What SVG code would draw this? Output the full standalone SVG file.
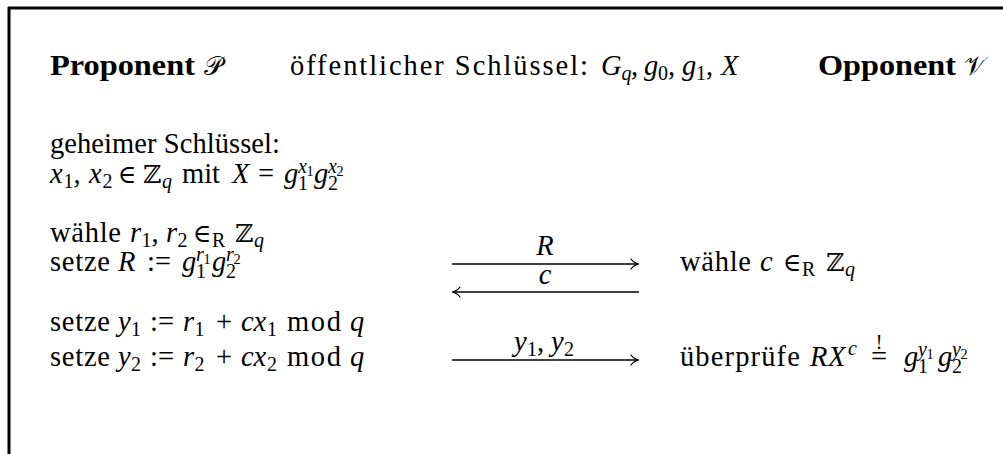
<svg xmlns="http://www.w3.org/2000/svg" width="1003" height="454" viewBox="0 0 1003 454">
<style>
text{font-family:"Liberation Serif","DejaVu Serif",serif;font-size:28.5px;fill:#000}
.b{font-weight:bold}
.i{font-style:italic}
.s{font-size:20px}
.ss{font-size:14.3px}
.m{text-anchor:middle}
.cal{font-family:"DejaVu Serif","DejaVu Sans",serif;font-style:normal;font-size:26px}
.sym{font-family:"DejaVu Serif",serif;font-size:25px}
.ln{stroke:#000;stroke-width:1.3;fill:none}
.hd{stroke:#000;stroke-width:1.2;fill:none;stroke-linecap:round}
</style>
<g id="frame">
<line x1="8" y1="8" x2="1003" y2="8" stroke="#000" stroke-width="3"/>
<line x1="9" y1="7" x2="9" y2="454" stroke="#000" stroke-width="3"/>
</g>
<g id="proponent">
<text x="50" y="75" class="b" textLength="145" lengthAdjust="spacingAndGlyphs">Proponent</text>
<text x="204" y="75" class="cal">𝒫</text>
<text x="50" y="153" textLength="230" lengthAdjust="spacing">geheimer Schlüssel:</text>
<text y="183"><tspan x="50" class="i">x</tspan><tspan x="63.5" y="188" class="s">1</tspan><tspan x="73.5" y="183">,</tspan><tspan x="89" class="i">x</tspan><tspan x="102.5" y="188" class="s">2</tspan><tspan x="127" y="183" class="sym m">∈</tspan><tspan x="143" class="sym">ℤ</tspan><tspan x="162" y="188" class="s i">q</tspan><tspan x="182" y="183">mit</tspan><tspan x="232" class="i">X</tspan><tspan x="266" class="m">=</tspan><tspan x="284" class="i">g</tspan><tspan x="298" y="190" class="s">1</tspan><tspan x="298" y="173" class="s i">x</tspan><tspan x="306.5" y="176" class="ss">1</tspan><tspan x="314" y="183" class="i">g</tspan><tspan x="328" y="190" class="s">2</tspan><tspan x="328" y="173" class="s i">x</tspan><tspan x="336.5" y="176" class="ss">2</tspan></text>
<text y="242"><tspan x="50" textLength="71" lengthAdjust="spacing">wähle</tspan><tspan x="130" class="i">r</tspan><tspan x="141.5" y="247" class="s">1</tspan><tspan x="151.5" y="242">,</tspan><tspan x="166" class="i">r</tspan><tspan x="177.5" y="247" class="s">2</tspan><tspan x="202" y="242" class="sym m">∈</tspan><tspan x="212" y="247" class="s">R</tspan><tspan x="235" y="242" class="sym">ℤ</tspan><tspan x="254" y="247" class="s i">q</tspan></text>
<text y="271"><tspan x="50" textLength="60" lengthAdjust="spacing">setze</tspan><tspan x="118" class="i">R</tspan><tspan x="159" class="m">:=</tspan><tspan x="182" class="i">g</tspan><tspan x="196" y="278" class="s">1</tspan><tspan x="196" y="261" class="s i">r</tspan><tspan x="203.5" y="264" class="ss">1</tspan><tspan x="212" y="271" class="i">g</tspan><tspan x="226" y="278" class="s">2</tspan><tspan x="226" y="261" class="s i">r</tspan><tspan x="233.5" y="264" class="ss">2</tspan></text>
<text y="331"><tspan x="50" textLength="60" lengthAdjust="spacing">setze</tspan><tspan x="118" class="i">y</tspan><tspan x="131" y="336" class="s">1</tspan><tspan x="162" y="331" class="m">:=</tspan><tspan x="183" class="i">r</tspan><tspan x="194.5" y="336" class="s">1</tspan><tspan x="224" y="331" class="m">+</tspan><tspan x="241" class="i">c</tspan><tspan x="253.5" class="i">x</tspan><tspan x="267" y="336" class="s">1</tspan><tspan x="287" y="331" textLength="54" lengthAdjust="spacing">mod</tspan><tspan x="350" class="i">q</tspan></text>
<text y="366"><tspan x="50" textLength="60" lengthAdjust="spacing">setze</tspan><tspan x="118" class="i">y</tspan><tspan x="131" y="371" class="s">2</tspan><tspan x="162" y="366" class="m">:=</tspan><tspan x="183" class="i">r</tspan><tspan x="194.5" y="371" class="s">2</tspan><tspan x="224" y="366" class="m">+</tspan><tspan x="241" class="i">c</tspan><tspan x="253.5" class="i">x</tspan><tspan x="267" y="371" class="s">2</tspan><tspan x="287" y="366" textLength="54" lengthAdjust="spacing">mod</tspan><tspan x="350" class="i">q</tspan></text>
</g>
<g id="publickey">
<text y="75"><tspan x="290" textLength="298" lengthAdjust="spacing">öffentlicher Schlüssel:</tspan><tspan x="601" class="i">G</tspan><tspan x="621.5" y="80" class="s i">q</tspan><tspan x="631" y="75">,</tspan><tspan x="644" class="i">g</tspan><tspan x="658" y="80" class="s">0</tspan><tspan x="668" y="75">,</tspan><tspan x="682" class="i">g</tspan><tspan x="696" y="80" class="s">1</tspan><tspan x="706" y="75">,</tspan><tspan x="721" class="i">X</tspan></text>
</g>
<g id="opponent">
<text x="818" y="75" class="b" textLength="138" lengthAdjust="spacingAndGlyphs">Opponent</text>
<text x="964" y="75" class="cal">𝒱</text>
<text y="271"><tspan x="680" textLength="71" lengthAdjust="spacing">wähle</tspan><tspan x="760" class="i">c</tspan><tspan x="792" class="sym m">∈</tspan><tspan x="802" y="276" class="s">R</tspan><tspan x="826" y="271" class="sym">ℤ</tspan><tspan x="845" y="276" class="s i">q</tspan></text>
<text y="366"><tspan x="680" textLength="119.8" lengthAdjust="spacing">überprüfe</tspan><tspan x="810" class="i">R</tspan><tspan x="828" class="i">X</tspan><tspan x="848" y="355" class="s i">c</tspan><tspan x="879" y="366" class="m">=</tspan><tspan x="879" y="349" class="s m">!</tspan><tspan x="904" y="366" class="i">g</tspan><tspan x="918" y="373" class="s">1</tspan><tspan x="918" y="356" class="s i">y</tspan><tspan x="926.5" y="359" class="ss">1</tspan><tspan x="938" y="366" class="i">g</tspan><tspan x="952" y="373" class="s">2</tspan><tspan x="952" y="356" class="s i">y</tspan><tspan x="960.5" y="359" class="ss">2</tspan></text>
</g>
<g id="connectors">
<line class="ln" x1="452" y1="264" x2="638" y2="264"/>
<path class="hd" d="M631,259 Q634,263 639,264 Q634,265 631,269"/>
<text class="i m" x="545" y="255">R</text>
<line class="ln" x1="453" y1="292" x2="639" y2="292"/>
<path class="hd" d="M460,287 Q457,291 452,292 Q457,293 460,297"/>
<text class="i m" x="545" y="284">c</text>
<line class="ln" x1="452" y1="360" x2="638" y2="360"/>
<path class="hd" d="M631,355 Q634,359 639,360 Q634,361 631,365"/>
<text y="351"><tspan x="514" class="i">y</tspan><tspan x="527" y="356" class="s">1</tspan><tspan x="537" y="351">,</tspan><tspan x="551" class="i">y</tspan><tspan x="564" y="356" class="s">2</tspan></text>
</g>
</svg>
